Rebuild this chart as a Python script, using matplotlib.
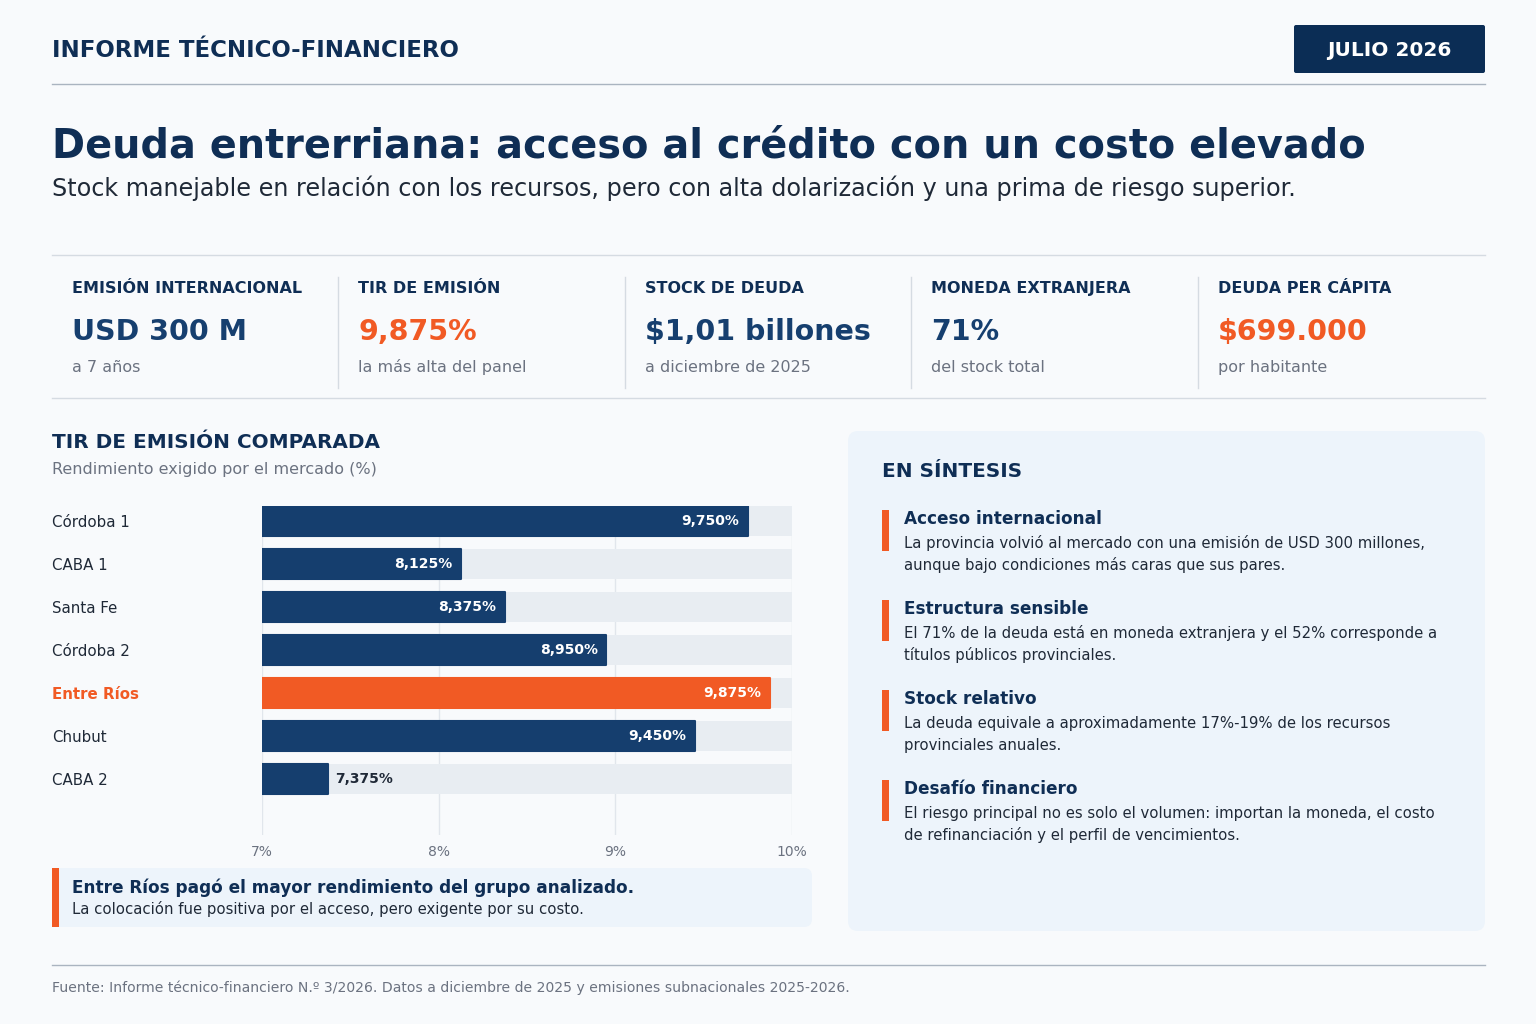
import matplotlib.pyplot as plt
from matplotlib.patches import FancyBboxPatch, Rectangle
from matplotlib.transforms import Affine2D

plt.rcParams['font.family'] = ['DejaVu Sans']

W, H = 1536, 1024

# ---- data ----
issuers = ['Córdoba 1', 'CABA 1', 'Santa Fe', 'Córdoba 2', 'Entre Ríos', 'Chubut', 'CABA 2']
tir = [9.750, 8.125, 8.375, 8.950, 9.875, 9.450, 7.375]
highlight = 'Entre Ríos'
x_ticks = [7, 8, 9, 10]

kpi_labels = ['EMISIÓN INTERNACIONAL', 'TIR DE EMISIÓN', 'STOCK DE DEUDA',
              'MONEDA EXTRANJERA', 'DEUDA PER CÁPITA']
kpi_values = ['USD 300 M', '9,875%', '$1,01 billones', '71%', '$699.000']
kpi_notes = ['a 7 años', 'la más alta del panel', 'a diciembre de 2025',
             'del stock total', 'por habitante']
kpi_accent = [False, True, False, False, True]

summary_titles = ['Acceso internacional', 'Estructura sensible',
                  'Stock relativo', 'Desafío financiero']
summary_texts = [
    ['La provincia volvió al mercado con una emisión de USD 300 millones,',
     'aunque bajo condiciones más caras que sus pares.'],
    ['El 71% de la deuda está en moneda extranjera y el 52% corresponde a',
     'títulos públicos provinciales.'],
    ['La deuda equivale a aproximadamente 17%-19% de los recursos',
     'provinciales anuales.'],
    ['El riesgo principal no es solo el volumen: importan la moneda, el costo',
     'de refinanciación y el perfil de vencimientos.'],
]

# ---- colours ----
BG = '#f8fafc'
NAVY = '#0f2e55'
BAR = '#153e6e'
ORANGE = '#f15a24'
GREY = '#6b7280'
DARK = '#1f2937'
TRACK = '#e8edf2'
PANEL = '#edf4fb'
RULE = '#d5dbe2'

fig = plt.figure(figsize=(W / 100, H / 100), dpi=100, facecolor=BG)
# pixel coordinates, origin at top-left
PX = Affine2D().scale(1 / W, -1 / H).translate(0, 1) + fig.transFigure


def txt(x, y, s, size, color=DARK, weight='normal', **kw):
    fig.text(x, y, s, transform=PX, fontsize=size, color=color,
             fontweight=weight, va=kw.pop('va', 'baseline'), **kw)


def hline(y, x0=52, x1=1485, color=RULE, lw=1):
    fig.add_artist(plt.Line2D([x0, x1], [y, y], transform=PX, color=color, lw=lw))


def rbox(x, y, w, h, color, r=6):
    fig.add_artist(FancyBboxPatch((x + r, y + r), w - 2 * r, h - 2 * r,
                                  boxstyle=f'round,pad={r}', transform=PX,
                                  facecolor=color, edgecolor='none'))


# ---- header ----
txt(52, 57, 'INFORME TÉCNICO-FINANCIERO', 16.5, NAVY, 'bold')
rbox(1294, 25, 191, 48, '#0b2d55', r=2)
txt(1389.5, 56, 'JULIO 2026', 14.5, 'white', 'bold', ha='center')
hline(84, color='#aab4c0')

txt(52, 157, 'Deuda entrerriana: acceso al crédito con un costo elevado', 28.7, NAVY, 'bold')
txt(52, 196, 'Stock manejable en relación con los recursos, pero con alta dolarización '
    'y una prima de riesgo superior.', 17.2, DARK)

# ---- KPI strip ----
hline(255)
hline(398)
kpi_x = [72, 358, 645, 931, 1218]
for i, x in enumerate(kpi_x):
    if i > 0:
        fig.add_artist(plt.Line2D([x - 20, x - 20], [277, 388], transform=PX,
                                  color=RULE, lw=1))
    txt(x, 293, kpi_labels[i], 11.5, NAVY, 'bold')
    txt(x, 340, kpi_values[i], 20.5, ORANGE if kpi_accent[i] else '#163f6f', 'bold')
    txt(x, 372, kpi_notes[i], 11.5, GREY)

# ---- bar chart ----
txt(52, 448, 'TIR DE EMISIÓN COMPARADA', 14.4, NAVY, 'bold')
txt(52, 474, 'Rendimiento exigido por el mercado (%)', 11.5, GREY)

ax = fig.add_axes([262 / W, 1 - 835 / H, (792 - 262) / W, (835 - 506) / H])
ax.set_facecolor('none')
ypos = list(range(len(issuers)))
ax.barh(ypos, [x_ticks[-1] - x_ticks[0]] * len(issuers), left=x_ticks[0],
        height=0.7, color=TRACK, zorder=1)
colors = [ORANGE if n == highlight else BAR for n in issuers]
ax.barh(ypos, [v - x_ticks[0] for v in tir], left=x_ticks[0], height=0.7,
        color=colors, edgecolor=colors, linewidth=1.5, joinstyle='round', zorder=2)
for y, v in zip(ypos, tir):
    label = f'{v:.3f}%'.replace('.', ',')
    if v - x_ticks[0] > 0.6:
        ax.text(v - 0.05, y, label, ha='right', va='center', color='white',
                fontsize=10, fontweight='bold', zorder=3)
    else:
        ax.text(v + 0.04, y, label, ha='left', va='center', color=DARK,
                fontsize=10, fontweight='bold', zorder=3)

ax.set_xlim(x_ticks[0], x_ticks[-1])
ax.set_ylim(7.3, -0.35)
ax.set_xticks(x_ticks)
ax.set_xticklabels([f'{t}%' for t in x_ticks])
ax.grid(axis='x', color='#e1e6ec', lw=1, zorder=0)
ax.set_axisbelow(True)
for s in ax.spines.values():
    s.set_visible(False)
ax.tick_params(axis='x', length=0, pad=7, labelsize=10, labelcolor=GREY)
ax.set_yticks(ypos)
ax.set_yticklabels(issuers)
ax.tick_params(axis='y', length=0, pad=(262 - 52) * 0.72, labelsize=10.8, labelcolor=DARK)
for lab in ax.get_yticklabels():
    lab.set_ha('left')
    if lab.get_text() == highlight:
        lab.set_color(ORANGE)
        lab.set_fontweight('bold')

# ---- callout under chart ----
rbox(52, 868, 760, 59, PANEL, r=8)
fig.add_artist(Rectangle((52, 868), 7, 59, transform=PX, facecolor=ORANGE, edgecolor='none'))
txt(72, 893, 'Entre Ríos pagó el mayor rendimiento del grupo analizado.', 12.2, NAVY, 'bold')
txt(72, 914, 'La colocación fue positiva por el acceso, pero exigente por su costo.', 10.75, DARK)

# ---- summary panel ----
rbox(848, 431, 637, 500, PANEL, r=10)
txt(882, 477, 'EN SÍNTESIS', 14.4, NAVY, 'bold')
for i, (t, body) in enumerate(zip(summary_titles, summary_texts)):
    y0 = 510 + 90 * i
    fig.add_artist(Rectangle((882, y0), 7, 41, transform=PX,
                             facecolor=ORANGE, edgecolor='none'))
    txt(904, y0 + 14, t, 12.2, NAVY, 'bold')
    for j, line in enumerate(body):
        txt(904, y0 + 38 + 22 * j, line, 10.75, DARK)

# ---- footer ----
hline(965, color='#aab4c0')
txt(52, 992, 'Fuente: Informe técnico-financiero N.º 3/2026. Datos a diciembre de 2025 '
    'y emisiones subnacionales 2025-2026.', 10.1, GREY)

fig.savefig('out.png', dpi=100, facecolor=BG)
